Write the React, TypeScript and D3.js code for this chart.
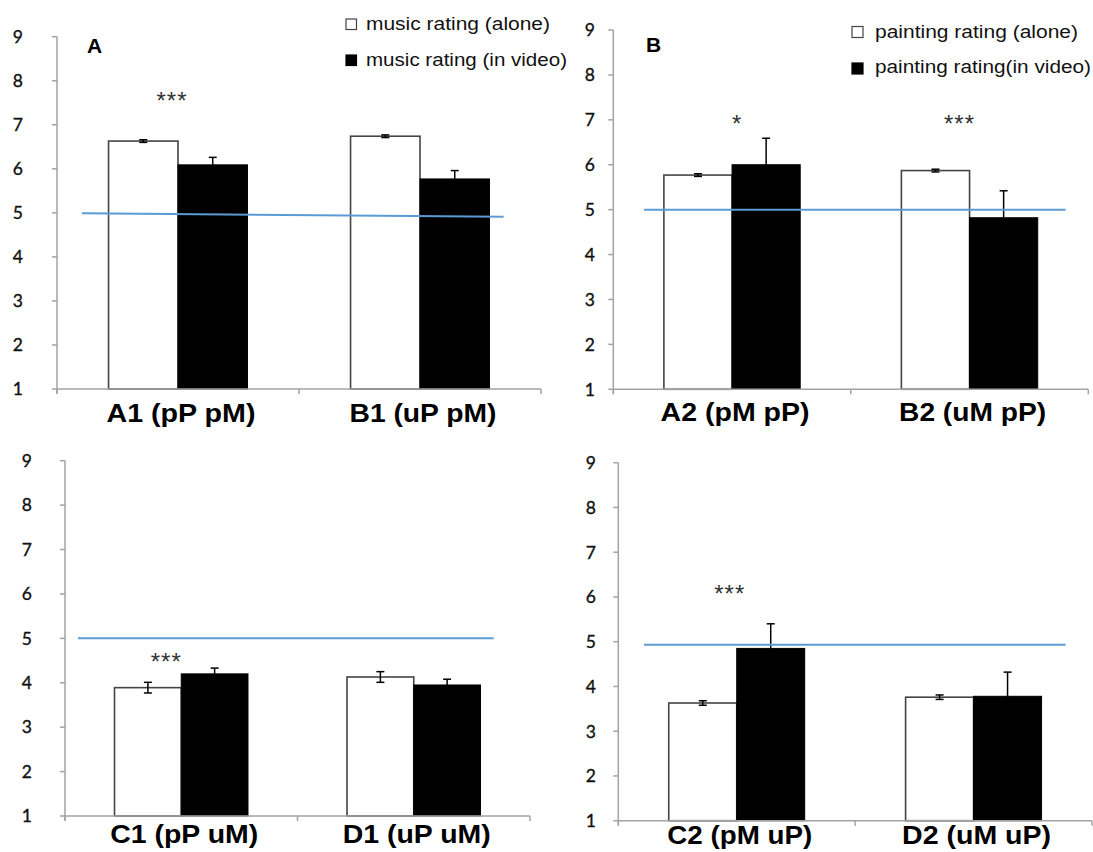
import React from "react";
import * as d3 from "d3";

// ---------- data ----------
const yTicks = [1, 2, 3, 4, 5, 6, 7, 8, 9];

const groupsA = ["A1 (pP pM)", "B1 (uP pM)"];
const aloneA = [6.63, 6.74];
const aloneErrA = [0.03, 0.03];
const videoA = [6.09, 5.77];
const videoErrA = [0.17, 0.19];
const refLineA = [4.99, 4.91];
const starsA = ["***", ""];
const starLevelA = [7.68, 0];
const legendA = ["music rating (alone)", "music rating (in video)"];

const groupsB = ["A2 (pM pP)", "B2 (uM pP)"];
const aloneB = [5.77, 5.87];
const aloneErrB = [0.03, 0.03];
const videoB = [6.0, 4.82];
const videoErrB = [0.59, 0.6];
const refLineB = [5.0, 5.0];
const starsB = ["*", "***"];
const starLevelB = [7.04, 7.04];
const legendB = ["painting rating (alone)", "painting rating(in video)"];

const groupsC = ["C1 (pP uM)", "D1 (uP uM)"];
const aloneC = [3.89, 4.13];
const aloneErrC = [0.12, 0.12];
const videoC = [4.2, 3.95];
const videoErrC = [0.13, 0.13];
const refLineC = [5.0, 5.0];
const starsC = ["***", ""];
const starLevelC = [4.61, 0];

const groupsD = ["C2 (pM uP)", "D2 (uM uP)"];
const aloneD = [3.63, 3.76];
const aloneErrD = [0.05, 0.05];
const videoD = [4.85, 3.78];
const videoErrD = [0.55, 0.54];
const refLineD = [4.93, 4.93];
const starsD = ["***", ""];
const starLevelD = [6.21, 0];

// ---------- layout ----------
type Legend = { sqX: number; sqY: number[]; sq: number; tx: number; ty: number[]; tw: number[]; texts: string[] };
type Panel = {
  groups: string[]; alone: number[]; aloneErr: number[]; video: number[]; videoErr: number[];
  ref: number[]; stars: string[]; starLevel: number[];
  x0: number; x1: number; yTop: number; yBot: number; tickX: number; refX: number[];
  starDx: number[]; labelY: number; labelW: number[];
  letter?: { text: string; x: number; y: number };
  legend?: Legend;
};

const panels: Panel[] = [
  {
    groups: groupsA, alone: aloneA, aloneErr: aloneErrA, video: videoA, videoErr: videoErrA,
    ref: refLineA, stars: starsA, starLevel: starLevelA,
    x0: 57, x1: 541, yTop: 36.7, yBot: 389, tickX: 23, refX: [82, 503.6],
    starDx: [-6, 0], labelY: 422, labelW: [149, 147],
    letter: { text: "A", x: 87, y: 53 },
    legend: { sqX: 346, sqY: [19, 55], sq: 10.5, tx: 366, ty: [30, 66], tw: [184, 201], texts: legendA },
  },
  {
    groups: groupsB, alone: aloneB, aloneErr: aloneErrB, video: videoB, videoErr: videoErrB,
    ref: refLineB, stars: starsB, starLevel: starLevelB,
    x0: 613.3, x1: 1088.3, yTop: 30, yBot: 389.3, tickX: 595, refX: [644, 1065.6],
    starDx: [5, -10], labelY: 421, labelW: [149, 147],
    letter: { text: "B", x: 646, y: 52.3 },
    legend: { sqX: 852, sqY: [26.5, 63], sq: 11, tx: 875, ty: [38, 73], tw: [203, 216], texts: legendB },
  },
  {
    groups: groupsC, alone: aloneC, aloneErr: aloneErrC, video: videoC, videoErr: videoErrC,
    ref: refLineC, stars: starsC, starLevel: starLevelC,
    x0: 65, x1: 530, yTop: 460.7, yBot: 816, tickX: 32, refX: [78, 493.6],
    starDx: [-15, 0], labelY: 843, labelW: [148, 148],
  },
  {
    groups: groupsD, alone: aloneD, aloneErr: aloneErrD, video: videoD, videoErr: videoErrD,
    ref: refLineD, stars: starsD, starLevel: starLevelD,
    x0: 618.3, x1: 1092, yTop: 462.7, yBot: 820.7, tickX: 596, refX: [644, 1065.6],
    starDx: [-7, 0], labelY: 844, labelW: [145, 149],
  },
];

const AXIS = "#a3a3a3";
const BLUE = "#5b9bd5";
const ARIAL = "Liberation Sans, Arial, sans-serif";
const TICKFONT = "Lato, Open Sans, sans-serif";

function ErrorBar({ x, yLo, yHi }: { x: number; yLo: number; yHi: number }) {
  return (
    <g stroke="#000" strokeWidth={1.5}>
      <line x1={x} x2={x} y1={yHi} y2={yLo} />
      <line x1={x - 4} x2={x + 4} y1={yHi} y2={yHi} />
      <line x1={x - 4} x2={x + 4} y1={yLo} y2={yLo} />
    </g>
  );
}

function PanelChart({ p }: { p: Panel }) {
  const y = d3.scaleLinear().domain([1, 9]).range([p.yBot, p.yTop]);
  const x = d3.scaleBand<string>().domain(p.groups).range([p.x0, p.x1]).paddingInner(0.426).paddingOuter(0.213);
  const bw = x.bandwidth() / 2;
  const step = x.step();
  const boundaries = [p.x0, p.x0 + step, p.x1];
  const refLine = d3.line<[number, number]>().x((d) => d[0]).y((d) => y(d[1]));
  const refPts: [number, number][] = [[p.refX[0], p.ref[0]], [p.refX[1], p.ref[1]]];

  return (
    <g>
      {/* y axis */}
      <line x1={p.x0} x2={p.x0} y1={y(9)} y2={y(1) + 5} stroke={AXIS} strokeWidth={1.5} />
      {yTicks.map((t) => (
        <g key={t}>
          <line x1={p.x0 - 5} x2={p.x0} y1={y(t)} y2={y(t)} stroke={AXIS} strokeWidth={1.5} />
          <text x={p.tickX} y={y(t)} dy="0.36em" textAnchor="end"
            style={{ fontFamily: TICKFONT, fontSize: "17.5px", fill: "#111", stroke: "#111", strokeWidth: 0.35 }}>
            {t}
          </text>
        </g>
      ))}
      {/* bars */}
      {p.groups.map((g, i) => {
        const bx = x(g) as number;
        return (
          <g key={g}>
            <rect x={bx} y={y(p.alone[i])} width={bw} height={y(1) - y(p.alone[i])} fill="#fff" stroke="#444" strokeWidth={1.6} />
            <rect x={bx + bw} y={y(p.video[i])} width={bw} height={y(1) - y(p.video[i])} fill="#000" stroke="#000" strokeWidth={1} />
          </g>
        );
      })}
      {/* x axis */}
      <line x1={p.x0} x2={p.x1} y1={y(1)} y2={y(1)} stroke={AXIS} strokeWidth={1.5} />
      {boundaries.map((b, i) => (
        <line key={i} x1={b} x2={b} y1={y(1)} y2={y(1) + 5} stroke={AXIS} strokeWidth={1.5} />
      ))}
      {/* error bars */}
      {p.groups.map((g, i) => {
        const bx = x(g) as number;
        return (
          <g key={"e" + g}>
            <ErrorBar x={bx + bw / 2} yHi={y(p.alone[i] + p.aloneErr[i])} yLo={y(p.alone[i] - p.aloneErr[i])} />
            <ErrorBar x={bx + bw * 1.5} yHi={y(p.video[i] + p.videoErr[i])} yLo={y(p.video[i] - p.videoErr[i])} />
          </g>
        );
      })}
      {/* reference line */}
      <path d={refLine(refPts) || ""} stroke={BLUE} strokeWidth={2} fill="none" />
      {/* significance stars */}
      {p.groups.map((g, i) =>
        p.stars[i] ? (
          <text key={"s" + g} x={(x(g) as number) + x.bandwidth() / 2 + p.starDx[i]} y={y(p.starLevel[i]) + 14}
            textAnchor="middle" fontFamily={ARIAL} fontSize={24} fill="#333" letterSpacing={1}>
            {p.stars[i]}
          </text>
        ) : null
      )}
      {/* category labels */}
      {p.groups.map((g, i) => (
        <text key={"l" + g} x={(x(g) as number) + x.bandwidth() / 2 + 3 - p.labelW[i] / 2} y={p.labelY}
          fontFamily={ARIAL} fontWeight="bold" fontSize={25} fill="#000"
          textLength={p.labelW[i]} lengthAdjust="spacingAndGlyphs">
          {g}
        </text>
      ))}
      {p.letter && (
        <text x={p.letter.x} y={p.letter.y} fontFamily={ARIAL} fontWeight="bold" fontSize={21} fill="#000">
          {p.letter.text}
        </text>
      )}
      {p.legend &&
        p.legend.texts.map((t, i) => (
          <g key={"lg" + i}>
            <rect x={p.legend!.sqX} y={p.legend!.sqY[i]} width={p.legend!.sq} height={p.legend!.sq}
              fill={i === 0 ? "#fff" : "#000"} stroke={i === 0 ? "#444" : "#000"} strokeWidth={1.2} />
            <text x={p.legend!.tx} y={p.legend!.ty[i]} fontFamily={ARIAL} fontSize={17.5} fill="#111"
              textLength={p.legend!.tw[i]} lengthAdjust="spacingAndGlyphs">
              {t}
            </text>
          </g>
        ))}
    </g>
  );
}

export default function App() {
  return (
    <svg width={1093} height={852} viewBox="0 0 1093 852"
      style={{ position: "absolute", left: 0, top: 0, display: "block", background: "#fff" }}>
      <rect x={0} y={0} width={1093} height={852} fill="#fff" />
      {panels.map((p, i) => (
        <PanelChart key={i} p={p} />
      ))}
    </svg>
  );
}
